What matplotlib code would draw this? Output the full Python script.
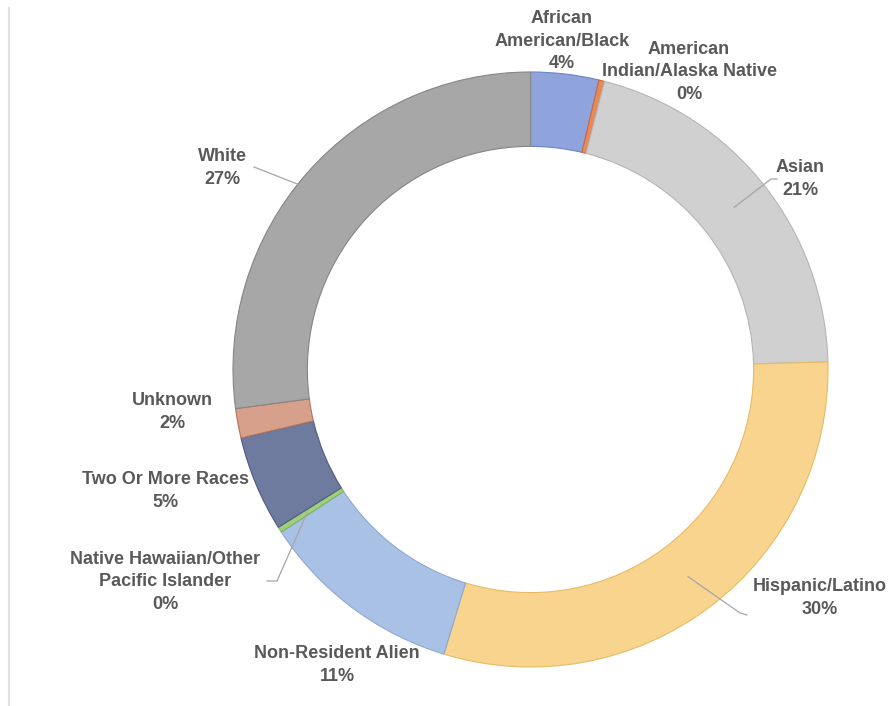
import numpy as np
import matplotlib
matplotlib.use('Agg')
from matplotlib import pyplot as plt
from matplotlib.lines import Line2D

# data (percent of students)
groups = ['African\nAmerican/Black', 'American\nIndian/Alaska Native', 'Asian',
          'Hispanic/Latino', 'Non-Resident Alien',
          'Native Hawaiian/Other\nPacific Islander', 'Two Or More Races',
          'Unknown', 'White']
shares = [3.7, 0.3, 20.6, 30.1, 11.1, 0.3, 5.2, 1.6, 27.1]

colors = ['#8fa4dc', '#e8895a', '#d0d0d0', '#f8d48f', '#a9c1e5',
          '#9fd07e', '#6f7b9e', '#d6a08b', '#a7a7a7']
edges = ['#6d84c4', '#d06a3a', '#b5b5b5', '#e6bb64', '#8ea8d0',
         '#7cb55a', '#4f5b7e', '#b5735c', '#858585']

# layout in pixels: centre of the ring, outer radius
CX, CY, R = 530.5, 369.5, 297.5
W, H = 889, 706

def px(x, y):
    return (x - CX) / R, (CY - y) / R

# label centres (pixels), leader end at label side, leader radius on ring
label_pos = [(562, 41), (689, 72), (800, 179), (820, 598), (337, 665),
             (165, 582), (165, 491), (172, 412), (222, 168)]
leaders = {2: ([(777, 179), (771, 179)], 0.875, 0),
           3: ([(747, 615), (740, 613)], 0.875, 0),
           5: ([(267, 581), (277, 581)], 0.89, 0),
           8: ([(254, 167)], 1.0, 2.7)}

fig = plt.figure(figsize=(W / 100, H / 100), dpi=100)
ax = fig.add_axes([0, 0, 1, 1])

wedges, _ = ax.pie(shares, colors=colors, startangle=90, counterclock=False,
                   radius=1.0, wedgeprops=dict(width=0.25, linewidth=0.8))
for w, ec in zip(wedges, edges):
    w.set_edgecolor(ec)

total = sum(shares)
for i, w in enumerate(wedges):
    txt = '{}\n{}%'.format(groups[i], int(round(shares[i] / total * 100)))
    x, y = px(*label_pos[i])
    ax.text(x, y, txt, ha='center', va='center', fontsize=13,
            fontweight='bold', color='#595959', linespacing=1.45,
            family=['Liberation Sans', 'DejaVu Sans'])
    if i in leaders:
        pts, r, shift = leaders[i]
        mid = np.deg2rad((w.theta1 + w.theta2) / 2 + shift)
        xs = [px(*p)[0] for p in pts] + [r * np.cos(mid)]
        ys = [px(*p)[1] for p in pts] + [r * np.sin(mid)]
        ax.plot(xs, ys, color='#a6a6a6', lw=0.9)

ax.set_xlim(px(0, 0)[0], px(W, 0)[0])
ax.set_ylim(px(0, H)[1], px(0, 0)[1])
ax.set_aspect('auto')
ax.axis('off')

# faint frame line on the left
fig.add_artist(Line2D([9 / W, 9 / W], [0, 1 - 8 / H], color='#e3e3e3', lw=1.5))

plt.savefig('out.png', dpi=100)
